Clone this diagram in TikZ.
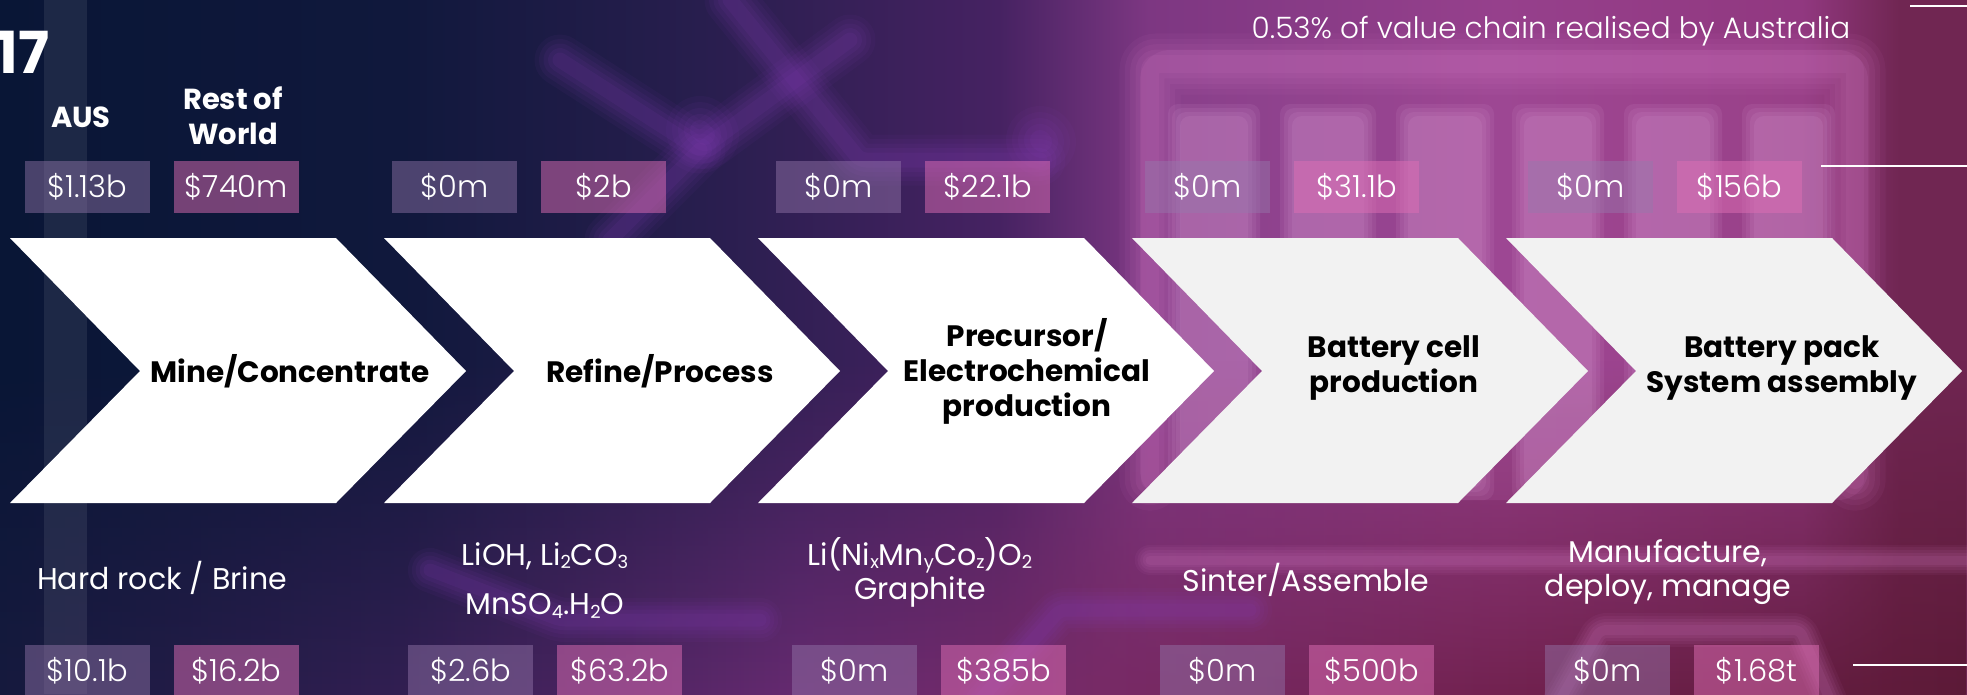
\documentclass[tikz,border=0pt]{standalone}
\usepackage{fontspec}
\usepackage{graphicx}
\setmainfont{Poppins}
\newfontfamily\poplight{Poppins Light}
\usetikzlibrary{fadings}

% background palette
\definecolor{bgA}{RGB}{9,22,54}
\definecolor{bgB}{RGB}{16,24,60}
\definecolor{bgC}{RGB}{40,30,78}
\definecolor{bgD}{RGB}{70,34,98}
\definecolor{bgE}{RGB}{125,55,130}
\definecolor{bgF}{RGB}{150,64,140}
\definecolor{bgG}{RGB}{145,56,128}
\definecolor{bgH}{RGB}{112,38,82}
\definecolor{btA}{RGB}{22,26,62}
\definecolor{btB}{RGB}{50,31,82}
\definecolor{btC}{RGB}{102,42,112}
\definecolor{btD}{RGB}{120,42,102}
\definecolor{btE}{RGB}{114,34,80}
\definecolor{btF}{RGB}{92,26,55}
\definecolor{trace}{RGB}{135,62,185}
\definecolor{cellc}{RGB}{220,160,215}
\definecolor{framec}{RGB}{215,125,200}
\definecolor{ausfill}{RGB}{150,120,172}
\definecolor{rowfill}{RGB}{222,110,180}
\definecolor{chevgrey}{RGB}{242,242,242}

% x positions mapped onto the 25bp..75bp band of the shading
\pgfdeclarehorizontalshading{bgtop}{100bp}{color(0bp)=(bgA); color(25bp)=(bgA);
  color(35.2bp)=(bgB); color(42.8bp)=(bgC); color(50.4bp)=(bgD);
  color(54.2bp)=(bgE); color(63.1bp)=(bgF); color(70.8bp)=(bgG);
  color(73.3bp)=(bgH); color(75bp)=(bgH); color(100bp)=(bgH)}
\pgfdeclarehorizontalshading{bgbot}{100bp}{color(0bp)=(btA); color(25bp)=(btA);
  color(35.2bp)=(btB); color(45.3bp)=(btC); color(53bp)=(btD);
  color(63.1bp)=(btE); color(75bp)=(btF); color(100bp)=(btF)}

\newcommand\chsub[1]{\raisebox{-0.12em}{\fontsize{18}{18}\selectfont #1}}
% soft, out-of-focus stroke built from stacked translucent strokes
\newcommand\hazeline[3]{%
  \foreach \w/\o in {1.7/0.06, 1.4/0.07, 1.1/0.08, 0.8/0.09, 0.5/0.1}
    \draw[line width=\w*#2, draw=#1, opacity=\o, line cap=round, line join=round, rounded corners=6pt] #3;}
% soft-edged filled block
\newcommand\hazebox[5]{%
  \foreach \d/\o in {0/0.11, 4/0.11, 8/0.12, 12/0.13}
    \fill[#5, opacity=\o, rounded corners=10pt] (#1+\d,#2+\d) rectangle (#3-\d,#4-\d);}

\tikzset{
  chevwhite/.style={fill=white},
  chevlight/.style={fill=chevgrey},
  stage/.style={font=\bfseries\fontsize{29.5}{35}\selectfont, text=black, align=center, inner sep=0},
  colhead/.style={font=\bfseries\fontsize{29}{35}\selectfont, text=white, align=center, inner sep=0},
  material/.style={font=\fontsize{30}{34}\selectfont, text=white, align=center, inner sep=0},
  valbox/.style={anchor=north west, minimum width=125pt, minimum height=52pt, inner sep=0,
    fill opacity=0.45, text opacity=1, text=white, font=\poplight\fontsize{30.5}{30}\selectfont},
  ausbox/.style={valbox, fill=ausfill},
  rowbox/.style={valbox, fill=rowfill, fill opacity=0.5},
  edgeline/.style={draw=white, line width=2.2pt},
}

\begin{document}
\begin{tikzpicture}[x=1pt,y=-1pt]
\useasboundingbox (0,0) rectangle (1967,694);

% ---- background ----
\shade[shading=bgtop] (0,0) rectangle (1967,694);
\shade[shading=bgbot, path fading=north] (0,360) rectangle (1967,694);

% pale vertical band on the left
\fill[white, opacity=0.08] (44,0) rectangle (87,694);

% circuit traces behind the chart
\hazeline{trace}{30pt}{(560,60) -- (700,150) -- (850,40)}
\hazeline{trace}{30pt}{(730,0) -- (860,160) -- (1040,160)}
\hazeline{trace}{30pt}{(610,240) -- (700,150)}
\hazeline{trace}{40pt}{(700,130) -- (705,135)}
\hazeline{trace}{40pt}{(1040,140) -- (1042,142)}
\hazeline{trace}{26pt}{(430,570) -- (560,620) -- (760,620)}
\hazeline{trace}{26pt}{(980,700) -- (1060,610) -- (1250,610)}
\hazeline{framec}{18pt}{(1150,560) -- (1967,560)}
\hazeline{framec}{20pt}{(1560,700) -- (1600,630) -- (1800,630) -- (1830,700)}

% battery module
\fill[framec, opacity=0.12, rounded corners=30pt] (1140,50) rectangle (1868,500);
\hazeline{framec}{36pt}{(1150,480) -- (1150,64) -- (1855,64) -- (1855,480)}
\foreach \a/\b in {1168/1260, 1280/1376, 1396/1494, 1512/1604, 1624/1722, 1742/1835}
  {\hazebox{\a}{104}{\b}{500}{cellc}}

% edge rules on the right
\draw[edgeline] (1910,6) -- (1967,6);
\draw[edgeline] (1821,166) -- (1967,166);
\draw[edgeline] (1853,665) -- (1967,665);

% ---- chevrons ----
\foreach \a/\s in {10/chevwhite, 384/chevwhite, 758/chevwhite, 1132/chevlight, 1506/chevlight}
  \path[\s] (\a,238) -- ++(326,0) -- ++(130,133) -- ++(-130,132) -- ++(-326,0) -- ++(130,-132) -- cycle;

\node[stage] (s1) at (290,371) {Mine/Concentrate};
\node[stage] (s2) at (660,371) {Refine/Process};
\node[stage] (s3) at (1027,371) {Precursor/\\Electrochemical\\production};
\node[stage] (s4) at (1394,368) {Battery cell\\production};
\node[stage] (s5) at (1782,368) {Battery pack\\System assembly};

% ---- headings ----
\node[anchor=base east, inner sep=0, text=white, font=\bfseries\fontsize{58}{58}\selectfont] (fig) at (50,73) {17};
\node[colhead] (haus) at (81,117) {AUS};
\node[colhead] (hrow) at (233,116) {Rest of\\World};
\node[anchor=center, inner sep=0, text=white, font=\poplight\fontsize{29.5}{30}\selectfont] (share) at (1551,31)
  {0.53\% of value chain realised by Australia};

% ---- value boxes ----
\node[ausbox] (ta1) at (24.5,161) {\$1.13b};
\node[rowbox] (tr1) at (173.5,161) {\$740m};
\node[ausbox] (ta2) at (392,161) {\$0m};
\node[rowbox] (tr2) at (541,161) {\$2b};
\node[ausbox] (ta3) at (776,161) {\$0m};
\node[rowbox] (tr3) at (925,161) {\$22.1b};
\node[ausbox] (ta4) at (1145,161) {\$0m};
\node[rowbox] (tr4) at (1294,161) {\$31.1b};
\node[ausbox] (ta5) at (1528,161) {\$0m};
\node[rowbox] (tr5) at (1677,161) {\$156b};

\node[ausbox] (ba1) at (24.5,645) {\$10.1b};
\node[rowbox] (br1) at (173.5,645) {\$16.2b};
\node[ausbox] (ba2) at (408,645) {\$2.6b};
\node[rowbox] (br2) at (557,645) {\$63.2b};
\node[ausbox] (ba3) at (792,645) {\$0m};
\node[rowbox] (br3) at (941,645) {\$385b};
\node[ausbox] (ba4) at (1160,645) {\$0m};
\node[rowbox] (br4) at (1309,645) {\$500b};
\node[ausbox] (ba5) at (1545,645) {\$0m};
\node[rowbox] (br5) at (1694,645) {\$1.68t};

% ---- materials ----
\node[material] (m1) at (162,578) {Hard rock / Brine};
\node[material] (m2a) at (545,556) {LiOH, Li\chsub{2}CO\chsub{3}};
\node[material] (m2b) at (545,606) {MnSO\chsub{4}.H\chsub{2}O};
\node[material] (m3) at (920,572) {Li(Ni\chsub{x}Mn\chsub{y}Co\chsub{z})O\chsub{2}\\Graphite};
\node[material] (m4) at (1306,580) {Sinter/Assemble};
\node[material] (m5) at (1668,572) {Manufacture,\\deploy, manage};
\end{tikzpicture}
\end{document}
